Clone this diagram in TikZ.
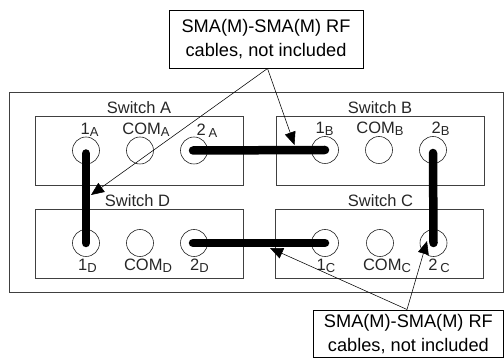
\documentclass[tikz,border=0pt]{standalone}
\usepackage{fontspec}
\setmainfont{Liberation Sans}
\usetikzlibrary{arrows.meta}
\newcommand{\portsub}[2]{#1\raisebox{-0.25ex}{\fontsize{13}{13}\selectfont #2}}

\begin{document}
\begin{tikzpicture}[x=1pt,y=-1pt]
        \tikzstyle{frame} = [rectangle, draw=black!75, line width=0.7pt, inner sep=0pt, anchor=north west]
        \tikzstyle{note} = [rectangle, draw=black, line width=0.8pt, align=center, font=\fontsize{18.2}{24}\selectfont, inner sep=0pt]
        \tikzstyle{port} = [circle, draw=black!85, line width=0.6pt, minimum size=27pt, inner sep=0pt]
        \tikzstyle{lab} = [font=\fontsize{16.5}{18}\selectfont, inner sep=0pt, text=black!85]
        \tikzstyle{cable} = [line width=8.5pt, line cap=round]
        \tikzstyle{arrow} = [line width=0.55pt, -{Triangle[length=13pt,width=11pt]}]
        \useasboundingbox (0,0) rectangle (504,358);
        % boxes
        \node [frame, minimum width=494.5pt, minimum height=200pt] (outer) at (8.5,92) {};
        \node [frame, minimum width=208pt, minimum height=69pt] (swA) at (35,116) {};
        \node [frame, minimum width=208pt, minimum height=69pt] (swB) at (275.5,116) {};
        \node [frame, minimum width=208pt, minimum height=69pt] (swD) at (35,209) {};
        \node [frame, minimum width=208pt, minimum height=69pt] (swC) at (275,209) {};
        \node [lab] (tA) at (139,107.5) {Switch A};
        \node [lab] (tB) at (380,107.5) {Switch B};
        \node [lab] (tD) at (137.5,200.5) {Switch D};
        \node [lab] (tC) at (380.5,200.5) {Switch C};
        % ports
        \node [port] (1A) at (86,150.5) {};
        \node [port] (comA) at (140,150.5) {};
        \node [port] (2A) at (194,150.5) {};
        \node [port] (1B) at (325,150) {};
        \node [port] (comB) at (379,150) {};
        \node [port] (2B) at (433,150) {};
        \node [port] (1D) at (86,243) {};
        \node [port] (comD) at (140,243) {};
        \node [port] (2D) at (194,243) {};
        \node [port] (1C) at (325,243) {};
        \node [port] (comC) at (380,243) {};
        \node [port] (2C) at (433.5,243) {};
        % port labels
        \node [lab] (l1A) at (89.5,130) {\portsub{1}{A}};
        \node [lab] (lcA) at (146,130) {\portsub{COM}{A}};
        \node [lab] (l2A) at (207,130.5) {\portsub{2\,}{A}};
        \node [lab] (l1B) at (324.5,128.5) {\portsub{1}{B}};
        \node [lab] (lcB) at (380,128.5) {\portsub{COM}{B}};
        \node [lab] (l2B) at (440.5,128.5) {\portsub{2}{B}};
        \node [lab] (l1D) at (87.5,265.5) {\portsub{1}{D}};
        \node [lab] (lcD) at (148,265.5) {\portsub{COM}{D}};
        \node [lab] (l2D) at (199.5,265.5) {\portsub{2}{D}};
        \node [lab] (l1C) at (326,265.5) {\portsub{1}{C}};
        \node [lab] (lcC) at (387,265.5) {\portsub{COM}{C}};
        \node [lab] (l2C) at (439,265.5) {\portsub{2\,}{C}};
        % cables
        \draw [cable] ([yshift=-3pt]1A.center) to (1D.center);
        \draw [cable] ([xshift=-1pt]2A.center) to (1B.center);
        \draw [cable] ([yshift=-3pt]2B.center) to (2C.center);
        \draw [cable] ([xshift=-1pt]2D.center) to (1C.center);
        % notes
        \node [note, minimum width=194pt, minimum height=58.5pt] (top) at (266,39.5) {SMA(M)-SMA(M) RF\\cables, not included};
        \node [note, minimum width=190pt, minimum height=47pt, anchor=north west] (bot) at (313,310) {SMA(M)-SMA(M) RF\\cables, not included};
        \coordinate (topout) at (267.5,68.5);
        \coordinate (botout) at (407,309.5);
        \coordinate (tipD) at (91,195);
        \coordinate (tipB) at (294.5,145);
        \coordinate (tipM) at (270,248);
        \coordinate (tipC) at (427,241);
        \draw [arrow] (topout) to (tipD);
        \draw [arrow] (topout) to (tipB);
        \draw [arrow] (botout) to (tipM);
        \draw [arrow] (botout) to (tipC);
\end{tikzpicture}
\end{document}
